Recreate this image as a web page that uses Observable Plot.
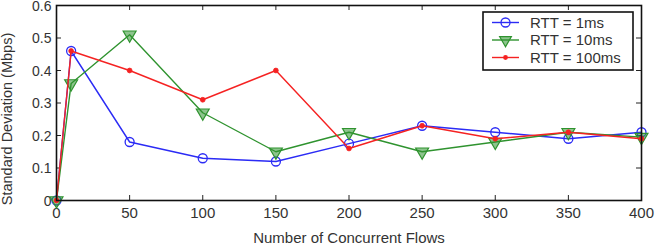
<!DOCTYPE html>
<html>
<head>
<meta charset="utf-8">
<script src="https://cdn.jsdelivr.net/npm/d3@7"></script>
<script src="https://cdn.jsdelivr.net/npm/@observablehq/plot@0.6"></script>
<style>
  body { margin: 0; background: #fff; }
  #chart { position: relative; width: 655px; height: 246px; overflow: hidden; font-family: "Liberation Sans", Arial, sans-serif; }
  #legend { position: absolute; left: 482px; top: 11px; }
</style>
</head>
<body>
<div id="chart"></div>
<script>
// Number of concurrent flows (x) and standard deviation of throughput per RTT setting
const flows = [0, 10, 50, 100, 150, 200, 250, 300, 350, 400];
const rtt1ms = [0, 0.46, 0.18, 0.13, 0.12, 0.175, 0.23, 0.21, 0.19, 0.21];
const rtt10ms = [0, 0.36, 0.51, 0.27, 0.15, 0.21, 0.15, 0.18, 0.21, 0.195];
const rtt100ms = [0, 0.46, 0.40, 0.31, 0.40, 0.16, 0.23, 0.19, 0.21, 0.19];
const seriesNames = ["RTT = 1ms", "RTT = 10ms", "RTT = 100ms"];
const xTicks = [0, 50, 100, 150, 200, 250, 300, 350, 400];
const yTicks = [0, 0.1, 0.2, 0.3, 0.4, 0.5, 0.6];

const colors = { blue: "#2b2bf5", green: "#2f932f", red: "#f52222" };

const W = 655, H = 246;
const mL = 56, mR = 14, mT = 5, mB = 46;
const innerW = W - mL - mR, innerH = H - mT - mB;
const tickLen = 5;

const rows = (vals, name) => flows.map((f, i) => ({ flows: f, sd: vals[i], series: name }));
const s1 = rows(rtt1ms, seriesNames[0]);
const s2 = rows(rtt10ms, seriesNames[1]);
const s3 = rows(rtt100ms, seriesNames[2]);

const font = "Liberation Sans, Arial, sans-serif";
const fs = 15;

const chart = Plot.plot({
  width: W,
  height: H,
  marginLeft: mL, marginRight: mR, marginTop: mT, marginBottom: mB,
  style: { fontFamily: font, color: "#333", background: "white", overflow: "hidden" },
  x: { domain: [0, 400] },
  y: { domain: [0, 0.6] },
  marks: [
    // tick labels only; tick marks are drawn inward below
    Plot.axisX({ ticks: xTicks, tickSize: 0, tickPadding: 7, fontSize: fs, label: null, fill: "#333" }),
    Plot.axisY({ ticks: yTicks, tickSize: 0, tickPadding: 5, fontSize: 14, dy: 1, label: null, fill: "#333",
                 tickFormat: d => d === 0 ? "0" : d3.format(".1f")(d) }),
    // inward ticks on all four sides of the box
    Plot.tickX(xTicks, { x: d => d, insetTop: innerH - tickLen, stroke: "#222" }),
    Plot.tickX(xTicks, { x: d => d, insetBottom: innerH - tickLen, stroke: "#222" }),
    Plot.tickY(yTicks, { y: d => d, insetRight: innerW - tickLen, stroke: "#222" }),
    Plot.tickY(yTicks, { y: d => d, insetLeft: innerW - tickLen, stroke: "#222" }),
    // series
    Plot.line(s1, { x: "flows", y: "sd", stroke: colors.blue, strokeWidth: 1.4 }),
    Plot.dot(s1, { x: "flows", y: "sd", r: 4.5, stroke: colors.blue, strokeWidth: 1.3, fill: "none" }),
    Plot.line(s2, { x: "flows", y: "sd", stroke: colors.green, strokeWidth: 1.4 }),
    Plot.dot(s2, { x: "flows", y: "sd", symbol: "triangle", rotate: 180, r: 4.8, stroke: colors.green,
                   strokeWidth: 1.2, fill: colors.green, fillOpacity: 0.55 }),
    Plot.line(s3, { x: "flows", y: "sd", stroke: colors.red, strokeWidth: 1.4 }),
    Plot.dot(s3, { x: "flows", y: "sd", r: 2.4, fill: colors.red, stroke: colors.red, strokeWidth: 0.8 }),
    // box
    Plot.frame({ stroke: "#111", strokeWidth: 1.6 }),
    // axis titles
    Plot.text(["Number of Concurrent Flows"], { text: d => d, frameAnchor: "bottom", lineAnchor: "top",
                                                textAnchor: "middle", dy: 31.5, fontSize: fs, fill: "#333" }),
    Plot.text(["Standard Deviation (Mbps)"], { text: d => d, frameAnchor: "left", rotate: -90,
                                               textAnchor: "middle", lineAnchor: "middle",
                                               dx: -49.5, dy: 16, fontSize: 14.5, fill: "#333" })
  ]
});

const root = document.getElementById("chart");
root.appendChild(chart);

// legend box with line + marker samples
const legendItems = [
  { name: seriesNames[0], color: colors.blue, kind: "circle" },
  { name: seriesNames[1], color: colors.green, kind: "triangle" },
  { name: seriesNames[2], color: colors.red, kind: "dot" }
];
const lw = 151, lh = 59;
const legend = d3.create("svg")
  .attr("id", "legend")
  .attr("width", lw + 2).attr("height", lh + 2)
  .style("font-family", font);
legend.append("rect")
  .attr("x", 1).attr("y", 1).attr("width", lw - 1).attr("height", lh - 1)
  .attr("fill", "white").attr("stroke", "#111").attr("stroke-width", 1.6);
const rowH = 17.5, row0 = 11.5;
const g = legend.selectAll("g.item").data(legendItems).join("g")
  .attr("transform", (d, i) => `translate(0,${row0 + i * rowH})`);
g.append("line").attr("x1", 10).attr("x2", 37).attr("stroke", d => d.color).attr("stroke-width", 1.4);
g.filter(d => d.kind === "circle").append("circle")
  .attr("cx", 23.5).attr("r", 4.5).attr("fill", "none").attr("stroke", d => d.color).attr("stroke-width", 1.3);
g.filter(d => d.kind === "triangle").append("path")
  .attr("d", d3.symbol(d3.symbolTriangle, 60)())
  .attr("transform", "translate(23.5,0) rotate(180)")
  .attr("fill", d => d.color).attr("fill-opacity", 0.55).attr("stroke", d => d.color).attr("stroke-width", 1.2);
g.filter(d => d.kind === "dot").append("circle")
  .attr("cx", 23.5).attr("r", 2.4).attr("fill", d => d.color);
g.append("text").attr("x", 48).attr("dy", "0.35em")
  .attr("font-size", fs).attr("fill", "#333").text(d => d.name);
root.appendChild(legend.node());
</script>
</body>
</html>
